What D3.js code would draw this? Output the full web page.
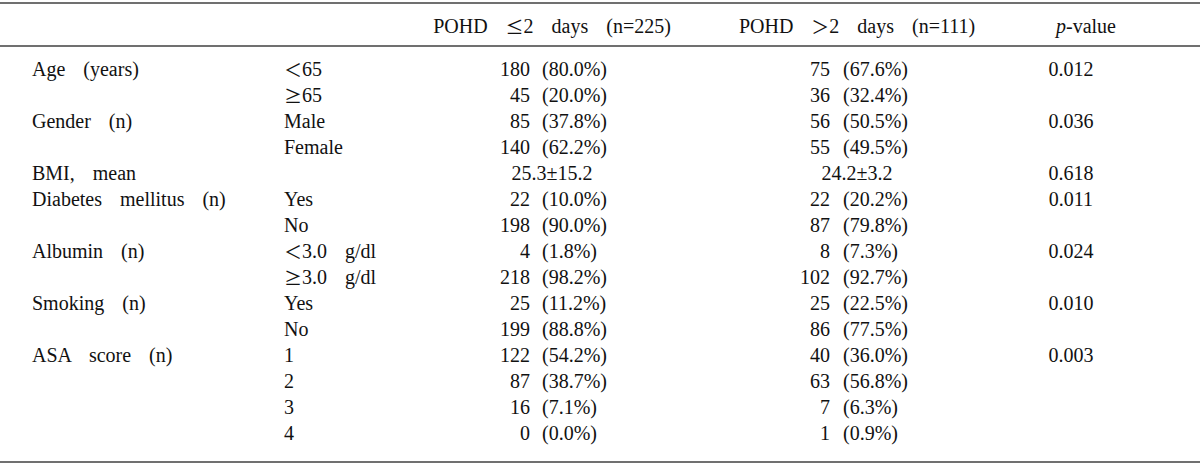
<!DOCTYPE html>
<html>
<head>
<meta charset="utf-8">
<script src="https://cdn.jsdelivr.net/npm/d3@7"></script>
<style>
  body { margin: 0; background: #fff; }
  svg text { font-family: "Liberation Serif", "Noto Sans CJK KR", serif; font-size: 20px; fill: #111; white-space: pre; word-spacing: 4px; }
  svg tspan.sym { font-family: "Noto Sans CJK KR", sans-serif; font-size: 18px; }
</style>
</head>
<body>
<div id="table"></div>
<script>
const width = 1200
const height = 466

// table content, one entry per row
const groups = ['Age  (years)', '', 'Gender  (n)', '', 'BMI,  mean', 'Diabetes  mellitus  (n)', '',
  'Albumin  (n)', '', 'Smoking  (n)', '', 'ASA  score  (n)', '', '', '']
const subLabels = ['<65', '≥65', 'Male', 'Female', '', 'Yes', 'No', '<3.0  g/dl', '≥3.0  g/dl',
  'Yes', 'No', '1', '2', '3', '4']
const countsShort = [180, 45, 85, 140, null, 22, 198, 4, 218, 25, 199, 122, 87, 16, 0]
const pctShort = [80.0, 20.0, 37.8, 62.2, null, 10.0, 90.0, 1.8, 98.2, 11.2, 88.8, 54.2, 38.7, 7.1, 0.0]
const countsLong = [75, 36, 56, 55, null, 22, 87, 8, 102, 25, 86, 40, 63, 7, 1]
const pctLong = [67.6, 32.4, 50.5, 49.5, null, 20.2, 79.8, 7.3, 92.7, 22.5, 77.5, 36.0, 56.8, 6.3, 0.9]
const bmiMean = ['25.3±15.2', '24.2±3.2']
const pValues = ['0.012', '', '0.036', '', '0.618', '0.011', '', '0.024', '', '0.010', '', '0.003', '', '', '']
const headers = ['POHD  ≤2  days  (n=225)', 'POHD  >2  days  (n=111)']

const svg = d3.select('#table').append('svg')
  .attr('width', width).attr('height', height)

const rowIdx = d3.range(groups.length)
const y = d3.scalePoint()
  .domain(rowIdx)
  .range([69, 433])

// column anchors
const col = { group: 32, sub: 284, n1: 530, p1: 542, c1: 552, n2: 830, p2: 843, c2: 857, pv: 1071, pvHead: 1086 }

// comparison signs are drawn with the wide CJK glyphs, as in the source
const symText = (sel, str) => {
  str.split(/([<>≤≥])/).filter(s => s !== '').forEach(part => {
    const t = sel.append('tspan').text(part)
    if (/^[<>≤≥]$/.test(part)) t.attr('class', 'sym').text({ '<': '＜', '>': '＞', '≤': '≤', '≥': '≥' }[part])
  })
}

// rules
const rules = [3, 46, 462]
svg.selectAll('line.rule')
  .data(rules).enter()
  .append('line')
  .attr('class', 'rule')
  .attr('x1', 0).attr('x2', width)
  .attr('y1', d => d).attr('y2', d => d)
  .attr('stroke', '#707070').attr('stroke-width', 2)

// header
const head = svg.append('g')
head.selectAll('text.h')
  .data(headers).enter()
  .append('text')
  .attr('x', (d, i) => i === 0 ? col.c1 : col.c2)
  .attr('y', 26)
  .attr('text-anchor', 'middle')
  .attr('dominant-baseline', 'central')
  .each(function (d) { symText(d3.select(this), d) })
const ph = head.append('text')
  .attr('x', col.pvHead).attr('y', 26)
  .attr('text-anchor', 'middle')
  .attr('dominant-baseline', 'central')
ph.append('tspan').style('font-style', 'italic').text('p')
ph.append('tspan').text('-value')

const rows = svg.selectAll('g.row')
  .data(rowIdx).enter()
  .append('g')
  .attr('class', 'row')
  .attr('transform', i => `translate(0,${y(i)})`)

const cell = (sel, x, anchor, fn) => sel.append('text')
  .attr('x', x).attr('text-anchor', anchor)
  .attr('dominant-baseline', 'central')
  .text(fn)

cell(rows, col.group, 'start', i => groups[i])
rows.append('text')
  .attr('x', col.sub)
  .attr('dominant-baseline', 'central')
  .each(function (i) { symText(d3.select(this), subLabels[i]) })
cell(rows, col.n1, 'end', i => countsShort[i] === null ? '' : countsShort[i])
cell(rows, col.p1, 'start', i => pctShort[i] === null ? '' : `(${pctShort[i].toFixed(1)}%)`)
cell(rows, col.n2, 'end', i => countsLong[i] === null ? '' : countsLong[i])
cell(rows, col.p2, 'start', i => pctLong[i] === null ? '' : `(${pctLong[i].toFixed(1)}%)`)
cell(rows, col.pv, 'middle', i => pValues[i])

// BMI row shows mean ± sd, centred under each group
const bmiRow = countsShort.indexOf(null)
svg.selectAll('text.bmi')
  .data(bmiMean).enter()
  .append('text')
  .attr('class', 'bmi')
  .attr('x', (d, i) => i === 0 ? col.c1 : col.c2)
  .attr('y', y(bmiRow))
  .attr('text-anchor', 'middle')
  .attr('dominant-baseline', 'central')
  .text(d => d)
</script>
</body>
</html>
